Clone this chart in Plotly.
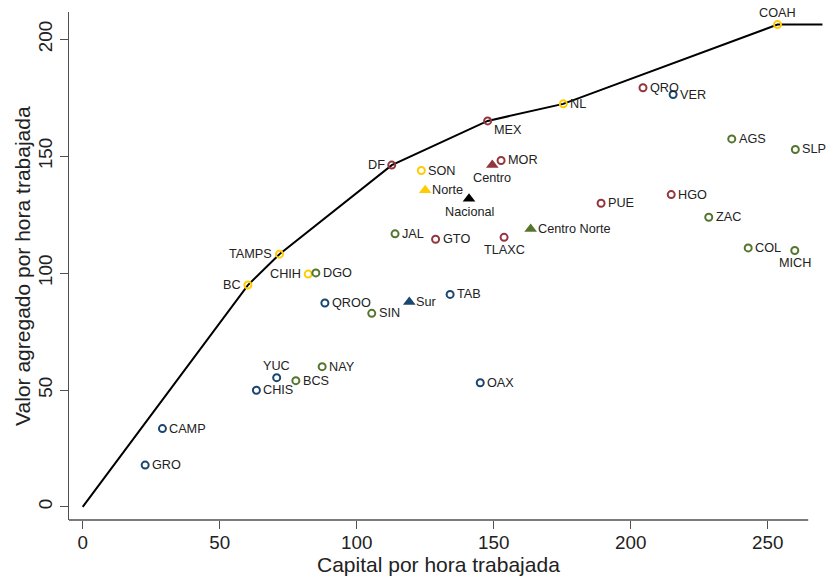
import plotly.graph_objects as go

# Frontier line
frontier_x = [0, 60.3, 71.8, 112.8, 147.8, 175.4, 253.6, 270]
frontier_y = [0, 94.9, 108.1, 146.2, 165.1, 172.4, 206.3, 206.3]

# Norte (yellow)
norte_names = ["BC", "TAMPS", "CHIH", "SON", "NL", "COAH"]
norte_x = [60.3, 71.8, 82.3, 123.6, 175.4, 253.6]
norte_y = [94.9, 108.1, 99.6, 143.9, 172.4, 206.3]
norte_pos = ["l", "l", "l", "r", "r", "t"]

# Centro (red)
centro_names = ["DF", "MEX", "MOR", "GTO", "TLAXC", "PUE", "QRO", "HGO"]
centro_x = [112.8, 147.8, 152.7, 128.8, 153.8, 189.2, 204.5, 214.8]
centro_y = [146.2, 165.1, 148.2, 114.5, 115.3, 129.9, 179.3, 133.6]
centro_pos = ["l", "br", "r", "r", "b", "r", "r", "r"]

# Centro Norte (green)
cn_names = ["JAL", "DGO", "SIN", "NAY", "BCS", "AGS", "SLP", "ZAC", "COL", "MICH"]
cn_x = [114.0, 85.1, 105.5, 87.4, 77.8, 236.9, 260.1, 228.5, 242.9, 259.9]
cn_y = [116.8, 100.1, 82.8, 60.0, 54.0, 157.4, 152.9, 123.9, 110.8, 109.7]
cn_pos = ["r"] * 9 + ["b"]

# Sur (blue)
sur_names = ["QROO", "TAB", "OAX", "YUC", "CHIS", "CAMP", "GRO", "VER"]
sur_x = [88.4, 134.1, 145.1, 70.8, 63.4, 29.1, 22.8, 215.5]
sur_y = [87.2, 90.9, 53.1, 55.3, 49.9, 33.5, 17.9, 176.4]
sur_pos = ["r", "r", "r", "t", "r", "r", "r", "r"]

# Regional averages (triangles)
reg_names = ["Norte", "Centro", "Nacional", "Centro Norte", "Sur"]
reg_x = [125.0, 149.5, 141.0, 163.5, 119.2]
reg_y = [135.5, 146.3, 131.8, 118.9, 87.7]
reg_pos = ["r", "b", "b", "r", "r"]

# Axis extents
X_MIN, X_AXIS_END, X_MAX = -5, 264.8, 270.2
Y_MIN, Y_MAX = -5.6, 211.7
x_ticks = [0, 50, 100, 150, 200, 250]
y_ticks = [0, 50, 100, 150, 200]

YELLOW = "#FFCC00"
RED = "#93353D"
GREEN = "#55752F"
BLUE = "#1A476F"
reg_colors = [YELLOW, RED, "#000000", GREEN, BLUE]

FAMILY = "Liberation Sans, Arial, sans-serif"
LABEL_FONT = dict(family=FAMILY, size=12.7, color="#222222")
TICK_FONT = dict(family=FAMILY, size=18.8, color="#222222")
TITLE_FONT = dict(family=FAMILY, size=21, color="#222222")
AX_COLOR = "#505050"

# label placement: (xanchor, xshift, yshift)
PLACE = {
    "r": ("left", 6, 0),
    "l": ("right", -6, 0),
    "b": ("center", 0, -13),
    "t": ("center", 0, 12),
    "br": ("left", 5, -9),
}

fig = go.Figure()

fig.add_trace(go.Scatter(
    x=frontier_x, y=frontier_y, mode="lines",
    line=dict(color="black", width=2), hoverinfo="skip"))

annotations = []


def add_labels(names, xs, ys, pos):
    for n, x, y, p in zip(names, xs, ys, pos):
        xa, dx, dy = PLACE[p]
        annotations.append(dict(
            x=x, y=y, xref="x", yref="y", text=n, showarrow=False,
            xanchor=xa, yanchor="middle", xshift=dx, yshift=dy,
            font=LABEL_FONT, borderpad=0))


for names, xs, ys, pos, col in [
    (norte_names, norte_x, norte_y, norte_pos, YELLOW),
    (centro_names, centro_x, centro_y, centro_pos, RED),
    (cn_names, cn_x, cn_y, cn_pos, GREEN),
    (sur_names, sur_x, sur_y, sur_pos, BLUE),
]:
    fig.add_trace(go.Scatter(
        x=xs, y=ys, mode="markers", cliponaxis=False,
        marker=dict(symbol="circle-open", size=7, color=col, line=dict(width=2, color=col))))
    add_labels(names, xs, ys, pos)

fig.add_trace(go.Scatter(
    x=reg_x, y=reg_y, mode="markers", cliponaxis=False,
    marker=dict(symbol="triangle-up", size=11, color=reg_colors)))
add_labels(reg_names, reg_x, reg_y, reg_pos)

# axis titles
annotations.append(dict(
    text="Capital por hora trabajada", xref="x", yref="paper",
    x=(X_MIN + X_AXIS_END) / 2, y=-0.088, xanchor="center", yanchor="middle",
    showarrow=False, font=TITLE_FONT))
annotations.append(dict(
    text="Valor agregado por hora trabajada", xref="paper", yref="paper",
    x=-0.0625, y=0.5, xanchor="center", yanchor="middle", showarrow=False,
    textangle=-90, font=TITLE_FONT))

fig.update_layout(
    width=828, height=580,
    margin=dict(l=69, r=5, t=12, b=60, autoexpand=False),
    paper_bgcolor="white", plot_bgcolor="white",
    showlegend=False,
    annotations=annotations,
    shapes=[dict(type="line", xref="x", yref="paper", x0=X_MIN, x1=X_AXIS_END, y0=0, y1=0,
                 line=dict(color=AX_COLOR, width=1.3), layer="above")],
    xaxis=dict(
        range=[X_MIN, X_MAX], tickvals=x_ticks,
        showgrid=False, zeroline=False, automargin=False, showline=False,
        ticks="outside", ticklen=8, tickwidth=1.3, tickcolor=AX_COLOR,
        tickfont=TICK_FONT, ticklabelstandoff=-3,
    ),
    yaxis=dict(
        range=[Y_MIN, Y_MAX], tickvals=y_ticks,
        showgrid=False, zeroline=False, automargin=False,
        showline=True, linecolor=AX_COLOR, linewidth=1.3,
        ticks="outside", ticklen=8, tickwidth=1.3, tickcolor=AX_COLOR,
        tickangle=-90, tickfont=TICK_FONT,
    ),
)

fig.write_html("out.html", config={"displayModeBar": False},
               post_script="document.body.style.margin='0px';document.body.style.overflow='hidden';")
